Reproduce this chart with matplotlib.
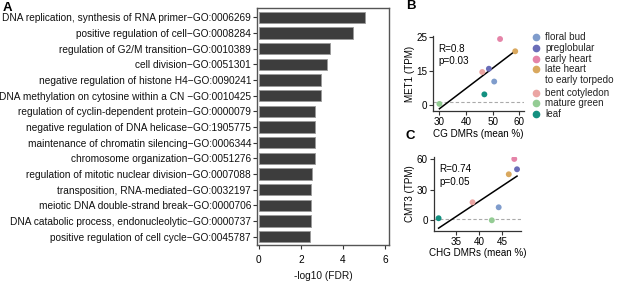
import numpy as np
import matplotlib
matplotlib.use('Agg')
import matplotlib.pyplot as plt
from matplotlib.lines import Line2D

plt.rcParams['font.family'] = ['Liberation Sans', 'DejaVu Sans']

# panel A: GO terms and -log10(FDR)
go_terms = [
    'DNA replication, synthesis of RNA primer\u2212GO:0006269',
    'positive regulation of cell\u2212GO:0008284',
    'regulation of G2/M transition\u2212GO:0010389',
    'cell division\u2212GO:0051301',
    'negative regulation of histone H4\u2212GO:0090241',
    'DNA methylation on cytosine within a CN \u2212GO:0010425',
    'regulation of cyclin-dependent protein\u2212GO:0000079',
    'negative regulation of DNA helicase\u2212GO:1905775',
    'maintenance of chromatin silencing\u2212GO:0006344',
    'chromosome organization\u2212GO:0051276',
    'regulation of mitotic nuclear division\u2212GO:0007088',
    'transposition, RNA-mediated\u2212GO:0032197',
    'meiotic DNA double-strand break\u2212GO:0000706',
    'DNA catabolic process, endonucleolytic\u2212GO:0000737',
    'positive regulation of cell cycle\u2212GO:0045787',
]
fdr = [5.02, 4.47, 3.37, 3.23, 2.96, 2.96, 2.68, 2.67, 2.66, 2.65, 2.55, 2.50, 2.50, 2.50, 2.42]

# panels B/C: stages
stages = ['floral bud', 'preglobular', 'early heart', 'late heart\nto early torpedo',
          'bent cotyledon', 'mature green', 'leaf']
colors = ['#7f9ccc', '#6a6db8', '#e584a8', '#d9a85e', '#eba5a3', '#94cc94', '#139080']

cg_dmr = [50.6, 48.6, 52.8, 58.5, 46.1, 30.0, 46.9]
met1 = [8.6, 13.3, 24.2, 19.7, 12.1, 0.4, 3.9]

chg_dmr = [44.3, 48.3, 47.7, 46.5, 38.6, 42.8, 31.2]
cmt3 = [12.7, 49.9, 60.0, 45.0, 17.6, 0.0, 2.0]

W, H = 617, 283
fig = plt.figure(figsize=(6.17, 2.83), dpi=100)

def box(l, t, r, b):
    return [l / W, 1 - b / H, (r - l) / W, (b - t) / H]

dark = '#333333'
fsA = 7.3
fs = 7.1

# ---- A ----
axA = fig.add_axes(box(257.3, 8, 389.3, 245.3))
y = np.arange(len(go_terms))
axA.barh(y, fdr, height=0.72, color='#3d3d3d', edgecolor='#9a9a9a', linewidth=0.6)
axA.set_yticks(y)
axA.set_yticklabels(go_terms, fontsize=fsA, color='#111111')
axA.set_ylim(len(go_terms) - 0.45, -0.6)
axA.set_xlim(-0.06, 6.19)
axA.set_xticks([0, 2, 4, 6])
axA.set_xlabel('-log10 (FDR)', fontsize=7.3, color='#111111', labelpad=4)
for s in axA.spines.values():
    s.set_color('#555555')
    s.set_linewidth(1.0)
axA.tick_params(axis='both', length=3, width=0.8, color=dark, labelsize=fsA, pad=1.5)
axA.tick_params(axis='x', labelsize=7.3, pad=4)

def scatter_panel(ax, xs, ys, rline, pline):
    ax.axhline(1, color='#aaaaaa', lw=0.8, ls=(0, (3, 2)), zorder=1)
    k, c = np.polyfit(xs, ys, 1)
    xx = np.array([min(xs), max(xs)])
    ax.plot(xx, k * xx + c, color='black', lw=1.1, zorder=2)
    ax.scatter(xs, ys, c=colors, s=18, linewidths=0, zorder=3)
    for side in ['top', 'right']:
        ax.spines[side].set_visible(False)
    for side in ['left', 'bottom']:
        ax.spines[side].set_color(dark)
        ax.spines[side].set_linewidth(0.9)
    ax.tick_params(length=3, width=0.8, color=dark, labelsize=fs, pad=1.5)
    ax.text(0.06, 0.83, rline, transform=ax.transAxes, fontsize=fs, va='center')
    ax.text(0.06, 0.66, pline, transform=ax.transAxes, fontsize=fs, va='center')

# ---- B ----
axB = fig.add_axes(box(433.3, 36, 524, 111))
scatter_panel(axB, cg_dmr, met1, 'R=0.8', 'p=0.03')
axB.set_xlim(27.7, 61.8)
axB.set_ylim(-2.2, 25.3)
axB.set_xticks([30, 40, 50, 60])
axB.set_yticks([0, 12.5, 25])
axB.set_yticklabels(['0', '15', '25'])
axB.set_xlabel('CG DMRs (mean %)', fontsize=fs, labelpad=1)
axB.set_ylabel('MET1 (TPM)', fontsize=fs, labelpad=1)

# ---- C ----
axC = fig.add_axes(box(434, 156.7, 520.7, 230.7))
scatter_panel(axC, chg_dmr, cmt3, 'R=0.74', 'p=0.05')
axC.set_xlim(30.2, 49.1)
axC.set_ylim(-10.2, 62.2)
axC.set_xticks([35, 40, 45])
axC.set_yticks([0, 30, 60])
axC.set_xlabel('CHG DMRs (mean %)', fontsize=fs, labelpad=1)
axC.set_ylabel('CMT3 (TPM)', fontsize=fs, labelpad=1)

# legend (manual, marker on first line)
ly = [37, 47.7, 59, 69.3, 92.7, 103.3, 114.3]
for lab, col, yy in zip(stages, colors, ly):
    fig.add_artist(Line2D([536 / W], [1 - yy / H], marker='o', ms=4.5, color=col,
                          lw=0, transform=fig.transFigure))
    if '\n' in lab:
        fig.text(545 / W, 1 - (yy - 5.5) / H, lab, fontsize=fs, va='top',
                 color='#222222', linespacing=1.15)
    else:
        fig.text(545 / W, 1 - yy / H, lab, fontsize=fs, va='center', color='#222222')

fig.text(3 / W, 1 - 8 / H, 'A', fontsize=9.5, fontweight='bold', va='center')
fig.text(406 / W, 1 - 6 / H, 'B', fontsize=9.5, fontweight='bold', va='center')
fig.text(406 / W, 1 - 136 / H, 'C', fontsize=9.5, fontweight='bold', va='center')

fig.savefig('out.png', dpi=100)
